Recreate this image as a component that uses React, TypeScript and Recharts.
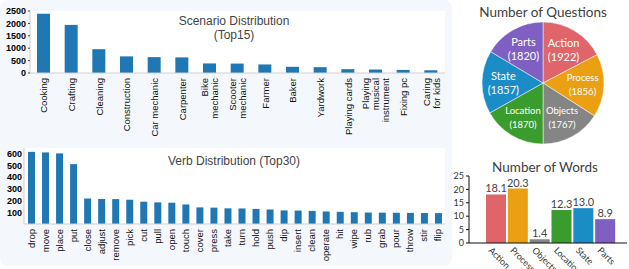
import React from "react";
import {
  BarChart, Bar, XAxis, YAxis, CartesianGrid, PieChart, Pie, Cell, LabelList,
} from "recharts";

const scenarios = [
  "Cooking", "Crafting", "Cleaning", "Construction", "Car mechanic", "Carpenter",
  "Bike\nmechanic", "Scooter\nmechanic", "Farmer", "Baker", "Yardwork", "Playing cards",
  "Playing\nmusical\ninstrument", "Fixing pc", "Caring\nfor kids",
];
const scenarioCounts = [2390, 1940, 960, 670, 640, 630, 385, 380, 345, 250, 235, 155, 140, 125, 110];
const scenarioTicks = [0, 500, 1000, 1500, 2000, 2500];

const verbs = [
  "drop", "move", "place", "put", "close", "adjust", "remove", "pick", "cut", "pull",
  "open", "touch", "cover", "press", "take", "turn", "hold", "push", "dip", "insert",
  "clean", "operate", "hit", "wipe", "rub", "grab", "pour", "throw", "stir", "flip",
];
const verbCounts = [
  617, 612, 604, 512, 218, 214, 213, 208, 191, 185,
  182, 167, 142, 140, 134, 133, 129, 124, 116, 115,
  112, 107, 104, 101, 98, 97, 96, 95, 94, 93,
];
const verbTicks = [100, 200, 300, 400, 500, 600];

const questionTypes = ["Action", "Process", "Objects", "Location", "State", "Parts"];
const questionCounts = [1922, 1856, 1767, 1870, 1857, 1820];
const wordCounts = [18.1, 20.3, 1.4, 12.3, 13.0, 8.9];
const wordTicks = [0, 5, 10, 15, 20, 25];

const TYPE_COLORS = ["#e0656a", "#eaa012", "#858585", "#3a9c2c", "#1a8dc7", "#7f60c2"];
const PIE_LABEL_SIZES = [11, 9.5, 9.5, 9.5, 11, 11];
const BAR_BLUE = "#1f77b4";
const LEFT_FONT = "'Liberation Sans', Arial, sans-serif";
const RIGHT_FONT = "Lato, 'Open Sans', sans-serif";

const scenarioData = scenarios.map((name, i) => ({ name, count: scenarioCounts[i] }));
const verbData = verbs.map((name, i) => ({ name, count: verbCounts[i] }));
const pieData = questionTypes.map((name, i) => ({ name, value: questionCounts[i] }));
const wordData = questionTypes.map((name, i) => ({ name, words: wordCounts[i] }));

function VerticalTick({ x, y, payload }: any) {
  const lines = String(payload.value).split("\n");
  const lh = 10;
  return (
    <g transform={`translate(${x},${y + 3})`}>
      {lines.map((l, i) => (
        <text
          key={i}
          transform={`translate(${(i - (lines.length - 1) / 2) * lh},0) rotate(-90)`}
          textAnchor="end"
          dominantBaseline="central"
          fontSize={9.5}
          fontFamily={LEFT_FONT}
          fill="#111"
        >
          {l}
        </text>
      ))}
    </g>
  );
}

function SlantTick({ x, y, payload }: any) {
  return (
    <text
      transform={`translate(${x - 8},${y + 6}) rotate(45)`}
      textAnchor="start"
      fontSize={9}
      fontFamily={RIGHT_FONT}
      fill="#333"
    >
      {payload.value}
    </text>
  );
}

function renderPieLabel(p: any) {
  const RAD = Math.PI / 180;
  const r = p.outerRadius * 0.65;
  const x = p.cx + r * Math.cos(-p.midAngle * RAD);
  const y = p.cy + r * Math.sin(-p.midAngle * RAD);
  const fs = PIE_LABEL_SIZES[p.index];
  return (
    <g>
      <text x={x} y={y - 7} textAnchor="middle" dominantBaseline="central" fill="#fff" fontSize={fs} fontFamily={RIGHT_FONT}>
        {questionTypes[p.index]}
      </text>
      <text x={x} y={y + 7} textAnchor="middle" dominantBaseline="central" fill="#fff" fontSize={fs} fontFamily={RIGHT_FONT}>
        ({questionCounts[p.index]})
      </text>
    </g>
  );
}

const yTickLeft = { fontSize: 9, fontFamily: LEFT_FONT, fill: "#000", fontWeight: 700 };

export default function App() {
  return (
    <div style={{ position: "absolute", left: 0, top: 0, width: 629, height: 269, overflow: "hidden", background: "#fff" }}>
      {/* left panel */}
      <div style={{ position: "absolute", left: 0, top: 0, width: 452, height: 266, background: "#f4f8fc", borderRadius: 8 }} />

      {/* Verb distribution */}
      <div style={{ position: "absolute", left: 0, top: 138 }}>
        <BarChart width={452} height={128} data={verbData} margin={{ top: 10, right: 7, bottom: 0, left: 0 }} barSize={7}>
          <CartesianGrid horizontal={false} vertical={false} fill="#fff" />
          <XAxis dataKey="name" interval={0} height={42} tick={<VerticalTick />} tickSize={0} tickLine={false} axisLine={{ stroke: "#cfcfcf" }} />
          <XAxis xAxisId="top" orientation="top" dataKey="name" height={0} tick={false} tickLine={false} axisLine={{ stroke: "#cfcfcf" }} />
          <YAxis width={24} domain={[0, 650]} ticks={verbTicks} interval={0} tick={yTickLeft} tickSize={0} tickMargin={2} tickLine={false} axisLine={{ stroke: "#cfcfcf" }} />
          <YAxis yAxisId="right" orientation="right" width={0} tick={false} tickLine={false} axisLine={{ stroke: "#cfcfcf" }} />
          <Bar dataKey="count" fill={BAR_BLUE} isAnimationActive={false} />
        </BarChart>
      </div>
      <div style={{ position: "absolute", left: 84, top: 154, width: 300, textAlign: "center", fontFamily: LEFT_FONT, fontSize: 12, lineHeight: "14px", color: "#444" }}>
        Verb Distribution (Top30)
      </div>

      {/* Scenario distribution */}
      <div style={{ position: "absolute", left: 0, top: 0 }}>
        <BarChart width={452} height={142} data={scenarioData} margin={{ top: 11, right: 7, bottom: 0, left: 0 }} barSize={13}>
          <CartesianGrid horizontal={false} vertical={false} fill="#fff" />
          <XAxis dataKey="name" interval={0} height={69} tick={<VerticalTick />} tickSize={0} tickLine={false} axisLine={{ stroke: "#cfcfcf" }} />
          <XAxis xAxisId="top" orientation="top" dataKey="name" height={0} tick={false} tickLine={false} axisLine={{ stroke: "#cfcfcf" }} />
          <YAxis width={30} domain={[0, 2500]} ticks={scenarioTicks} interval={0} tick={yTickLeft} tickSize={2} tickMargin={2} tickLine={{ stroke: "#444" }} axisLine={{ stroke: "#cfcfcf" }} />
          <YAxis yAxisId="right" orientation="right" width={0} tick={false} tickLine={false} axisLine={{ stroke: "#cfcfcf" }} />
          <Bar dataKey="count" fill={BAR_BLUE} isAnimationActive={false} />
        </BarChart>
      </div>
      <div style={{ position: "absolute", left: 134, top: 15, width: 200, textAlign: "center", fontFamily: LEFT_FONT, fontSize: 12, lineHeight: "13.5px", color: "#444" }}>
        Scenario Distribution
        <br />
        (Top15)
      </div>

      {/* Number of questions */}
      <div style={{ position: "absolute", left: 443, top: 4, width: 200, textAlign: "center", fontFamily: RIGHT_FONT, fontSize: 13.5, lineHeight: "17px", color: "#404040" }}>
        Number of Questions
      </div>
      <div style={{ position: "absolute", left: 440, top: 0 }}>
        <PieChart width={189} height={150} margin={{ top: 0, right: 0, bottom: 0, left: 0 }}>
          <Pie
            data={pieData}
            dataKey="value"
            nameKey="name"
            cx={103}
            cy={83}
            outerRadius={61}
            startAngle={90}
            endAngle={-270}
            stroke="#ffffff"
            strokeWidth={0.5}
            label={renderPieLabel}
            labelLine={false}
            isAnimationActive={false}
          >
            {pieData.map((_, i) => <Cell key={i} fill={TYPE_COLORS[i]} />)}
          </Pie>
        </PieChart>
      </div>

      {/* Number of words */}
      <div style={{ position: "absolute", left: 445, top: 159, width: 200, textAlign: "center", fontFamily: RIGHT_FONT, fontSize: 13.5, lineHeight: "17px", color: "#404040" }}>
        Number of Words
      </div>
      <div style={{ position: "absolute", left: 440, top: 150 }}>
        <BarChart width={189} height={119} data={wordData} margin={{ top: 26, right: 2, bottom: 0, left: 0 }} barCategoryGap={1}>
          <XAxis dataKey="name" interval={0} height={26} padding={{ left: 16, right: 11 }} tick={<SlantTick />} tickSize={0} tickLine={false} axisLine={{ stroke: "#111" }} />
          <YAxis width={29} domain={[0, 25]} ticks={wordTicks} interval={0} tick={{ fontSize: 9, fontFamily: RIGHT_FONT, fill: "#333" }} tickSize={3} tickMargin={2} tickLine={{ stroke: "#111" }} axisLine={{ stroke: "#111" }} />
          <Bar dataKey="words" isAnimationActive={false}>
            {wordData.map((_, i) => <Cell key={i} fill={TYPE_COLORS[i]} />)}
            <LabelList dataKey="words" position="top" offset={2} formatter={(v: any) => Number(v).toFixed(1)} fontSize={11} fontFamily={RIGHT_FONT} fill="#444" />
          </Bar>
        </BarChart>
      </div>
    </div>
  );
}
